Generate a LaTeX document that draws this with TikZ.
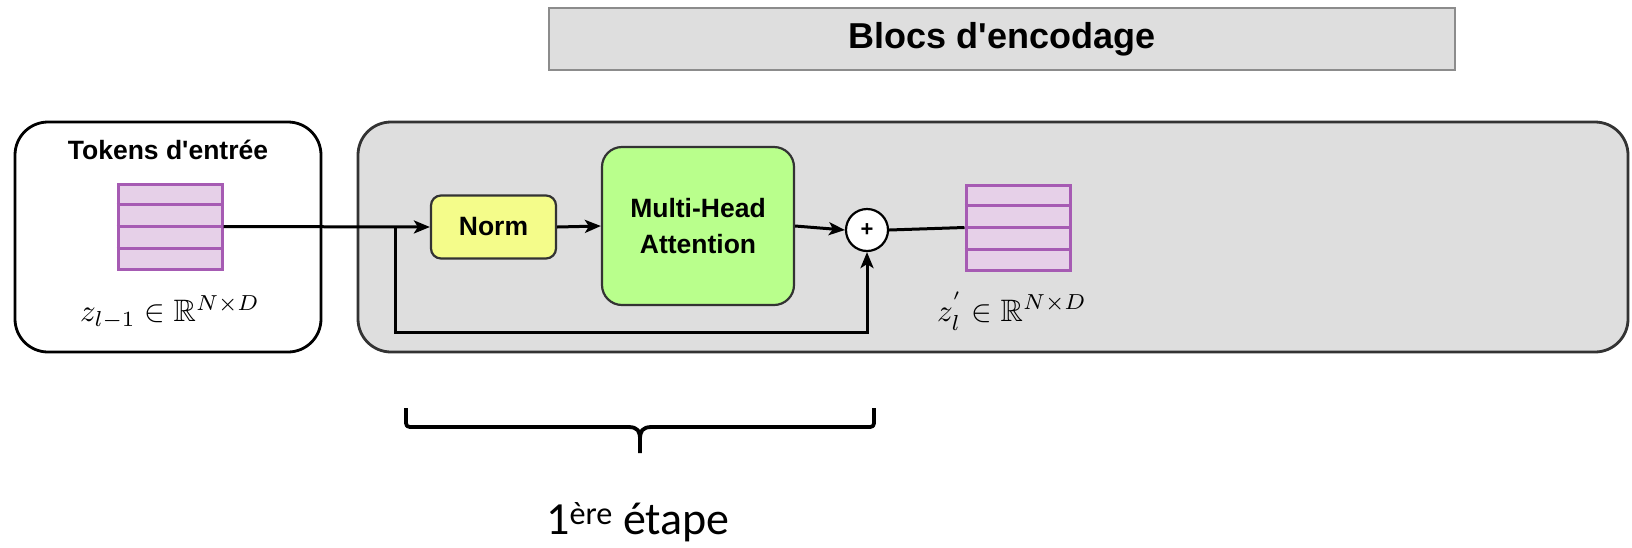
\documentclass[tikz,border=0pt]{standalone}
\usepackage{graphicx}
\usepackage{amssymb}
\usepackage{fontspec}
\newfontfamily\labelfont{Liberation Sans}
\newfontfamily\stepfont{Carlito}
\usetikzlibrary{arrows.meta,calc}

\definecolor{stackfill}{HTML}{E6D0E8}
\definecolor{stackline}{HTML}{A65BB3}
\definecolor{panelgray}{HTML}{DEDEDE}
\definecolor{normfill}{HTML}{F4FC8A}
\definecolor{attnfill}{HTML}{B9FF8C}
\definecolor{boxline}{HTML}{333333}
\definecolor{titleline}{HTML}{8C8C8C}

\tikzset{
  blocklabel/.style={font=\labelfont\bfseries\fontsize{26.5}{36}\selectfont, align=center},
  container/.style={draw=black, line width=2.8pt, rounded corners=33pt, fill=white, inner sep=0pt},
  panel/.style={draw=boxline, line width=2.8pt, rounded corners=33pt, fill=panelgray, inner sep=0pt},
  stack/.style={draw=stackline, line width=3pt, fill=stackfill, minimum width=104pt, minimum height=85pt, inner sep=0pt},
  opbox/.style={draw=boxline, line width=2.2pt, inner sep=0pt, blocklabel},
  sumnode/.style={circle, draw=black, line width=2.2pt, fill=white, minimum size=42pt, inner sep=0pt,
    font=\labelfont\bfseries\fontsize{22}{24}\selectfont},
  flow/.style={line width=3pt, -{Stealth[length=16pt,width=13pt,inset=4pt]}},
  plain/.style={line width=3pt},
  mathlabel/.style={inner sep=0pt},
}
% math at normal size, enlarged as a whole
\newcommand{\bigmath}[1]{\scalebox{3.1}{$#1$}}

\begin{document}
\begin{tikzpicture}[x=1pt,y=-1pt]
\useasboundingbox (0,0) rectangle (1632,547);

% header
\node[draw=titleline, line width=2pt, fill=panelgray, minimum width=906pt, minimum height=62pt,
      inner sep=0pt, font=\labelfont\bfseries\fontsize{36}{40}\selectfont]
  (title) at (1002,39) {Blocs d'encodage};

% input container
\node[container, minimum width=306pt, minimum height=230pt] (inbox) at (168,237) {};
\node[blocklabel] (intitle) at (168,150) {Tokens d'entrée};
\node[stack] (zin) at (170,226.5) {};
\foreach \f in {0.25,0.5,0.75}
  \draw[stackline, line width=3pt] ($(zin.north west)!\f!(zin.south west)$) -- ($(zin.north east)!\f!(zin.south east)$);
\node[mathlabel] (zinlabel) at (170,312) {\bigmath{z_{l-1}\in\mathbb{R}^{N\times D}}};

% encoder panel
\node[panel, minimum width=1270pt, minimum height=230pt] (enc) at (993,237) {};

\node[opbox, fill=normfill, rounded corners=10pt, minimum width=125pt, minimum height=63pt]
  (norm) at (493.5,227) {Norm};
\node[opbox, fill=attnfill, rounded corners=20pt, minimum width=192pt, minimum height=158pt]
  (mha) at (698,226) {Multi-Head\\Attention};
\node[sumnode] (plus) at (867,230) {+};

\node[stack] (zout) at (1018,227.5) {};
\foreach \f in {0.25,0.5,0.75}
  \draw[stackline, line width=3pt] ($(zout.north west)!\f!(zout.south west)$) -- ($(zout.north east)!\f!(zout.south east)$);
\node[mathlabel] (zoutlabel) at (1012,311) {\bigmath{z_l^{'}\in\mathbb{R}^{N\times D}}};

% connectors
\coordinate (branch) at (395,226.5);
\draw[flow] (zin.east) -- (norm.west);
\draw[flow] (branch) -- ++(0,106) -| (plus.south);
\draw[flow] (norm.east) -- (mha.west);
\draw[flow] (mha.east) -- (plus.west);
\draw[plain] (plus.east) -- (zout.west);

% brace under the first stage
\coordinate (bl) at (406,408);
\coordinate (br) at (874,408);
\coordinate (btip) at (640,453);
\draw[line width=3.8pt, line join=round]
  (bl) -- (406,419) .. controls (406,427) .. (414,427) -- (628,427)
  .. controls (638,427) and (640,431) .. (640,440) -- (btip);
\draw[line width=3.8pt, line join=round]
  (br) -- (874,419) .. controls (874,427) .. (866,427) -- (652,427)
  .. controls (642,427) and (640,431) .. (640,440);

\node[font=\stepfont\fontsize{46}{52}\selectfont, inner sep=0pt] (steplabel) at (638,522)
  {1\textsuperscript{ère} étape};
\end{tikzpicture}
\end{document}
